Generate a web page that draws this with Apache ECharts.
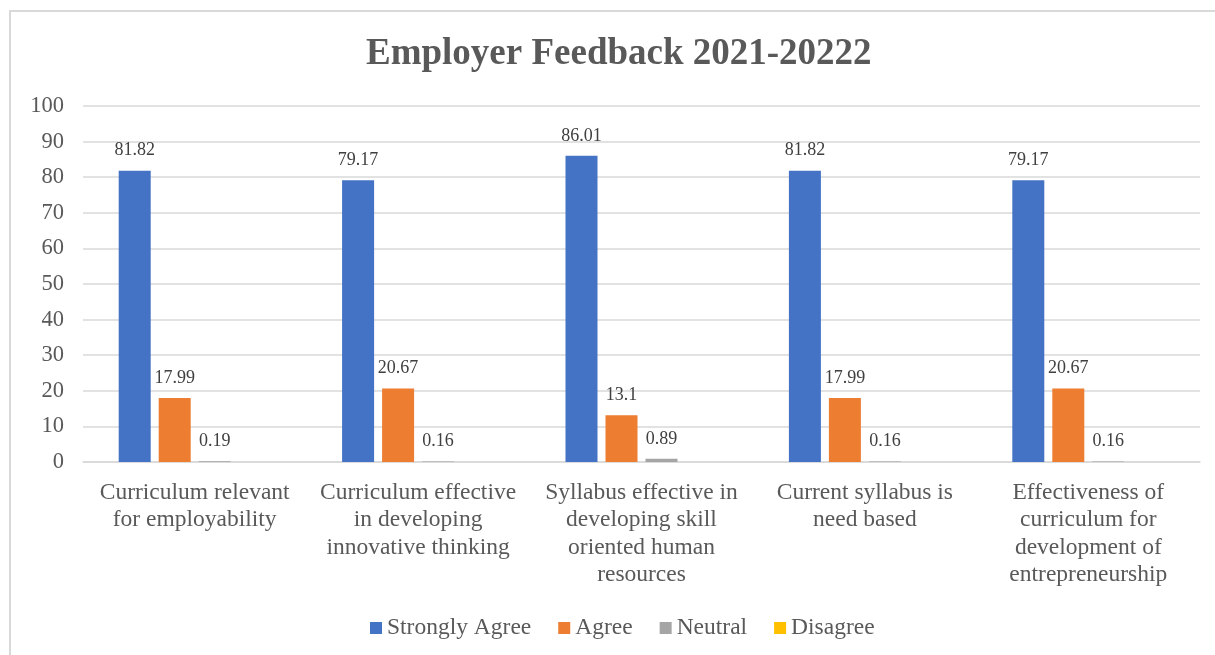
<!DOCTYPE html>
<html>
<head>
<meta charset="utf-8">
<script src="https://cdn.jsdelivr.net/npm/echarts@6/dist/echarts.min.js"></script>
<style>
html,body{margin:0;padding:0;background:#fff;overflow:hidden;}
#frame{position:absolute;left:9px;top:10px;width:1230px;height:680px;border-left:2px solid #D9D9D9;border-top:2px solid #D9D9D9;}
#chart{position:absolute;left:0;top:0;width:1215px;height:655px;}
</style>
</head>
<body>
<div id="frame"></div>
<div id="chart"></div>
<script>
const categories = [
  "Curriculum relevant\nfor employability",
  "Curriculum effective\nin developing\ninnovative thinking",
  "Syllabus effective in\ndeveloping skill\noriented human\nresources",
  "Current syllabus is\nneed based",
  "Effectiveness of\ncurriculum for\ndevelopment of\nentrepreneurship"
];
const seriesNames = ["Strongly Agree", "Agree", "Neutral", "Disagree"];
const stronglyAgree = [81.82, 79.17, 86.01, 81.82, 79.17];
const agree = [17.99, 20.67, 13.1, 17.99, 20.67];
const neutral = [0.19, 0.16, 0.89, 0.16, 0.16];
const disagree = [null, null, null, null, null];
const colors = ["#4472C4", "#ED7D31", "#A5A5A5", "#FFC000"];
const yTicks = [0, 10, 20, 30, 40, 50, 60, 70, 80, 90, 100];

const font = "'Liberation Serif','Times New Roman',serif";
const values = [stronglyAgree, agree, neutral, disagree];

const chart = echarts.init(document.getElementById('chart'));
chart.setOption({
  animation: false,
  color: colors,
  title: {
    text: "Employer Feedback 2021-20222",
    left: 361,
    top: 31,
    textStyle: {fontFamily: font, fontSize: 37, fontWeight: 'bold', color: '#595959'}
  },
  legend: {
    data: seriesNames,
    bottom: 10,
    left: 365,
    itemWidth: 12,
    itemHeight: 12,
    itemGap: 27,
    icon: 'rect',
    textStyle: {fontFamily: font, fontSize: 23.5, color: '#595959', padding: [0,0,0,0]}
  },
  grid: {left: 83, right: 15, top: 106, bottom: 193, containLabel: false},
  xAxis: {
    type: 'category',
    data: categories,
    axisLine: {show: true, lineStyle: {color: '#D9D9D9', width: 1.5}},
    axisTick: {show: false},
    axisLabel: {fontFamily: font, fontSize: 23.5, color: '#595959', lineHeight: 27.5, margin: 17, interval: 0}
  },
  yAxis: {
    type: 'value',
    min: yTicks[0],
    max: yTicks[yTicks.length - 1],
    interval: 10,
    axisLine: {show: false},
    axisTick: {show: false},
    splitLine: {lineStyle: {color: '#D9D9D9', width: 1.5}},
    axisLabel: {fontFamily: font, fontSize: 22.5, color: '#595959', margin: 19}
  },
  series: seriesNames.map((name, i) => ({
    name: name,
    type: 'bar',
    data: values[i],
    barWidth: 32,
    barGap: '25%',
    label: {
      show: true,
      position: 'top',
      distance: 11,
      fontFamily: font,
      fontSize: 18,
      color: '#404040'
    }
  }))
});
</script>
</body>
</html>
